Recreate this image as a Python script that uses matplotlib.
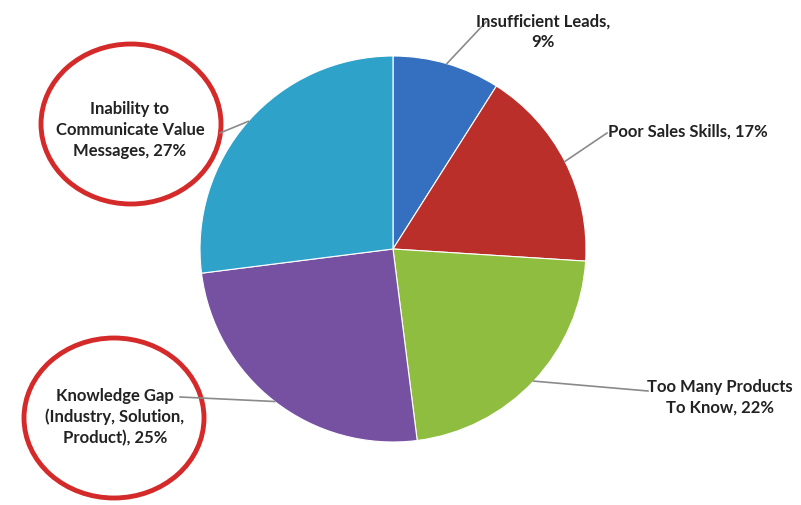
import numpy as np
import matplotlib.pyplot as plt
from matplotlib.patches import Ellipse

labels = [
    "Insufficient Leads,\n9%",
    "Poor Sales Skills, 17%",
    "Too Many Products\nTo Know, 22%",
    "Knowledge Gap\n(Industry, Solution,\nProduct), 25%",
    "Inability to\nCommunicate Value\nMessages, 27%",
]
values = [9, 17, 22, 25, 27]
colors = ["#3470bf", "#bb2f2b", "#8fbd3f", "#7651a1", "#2ea2c9"]

# layout in pixel coords (y measured from the top of the image)
W, H = 801, 505
center = (393, 249)
radius = 193
label_pos = [(543, 32), (688, 132), (720, 397), (115, 417), (130, 130)]
label_ends = [(486, 22), (607, 133), (648, 391), (180, 397), (220, 133)]
ring_centers = [(131, 124), (114, 418)]

fig = plt.figure(figsize=(W / 100, H / 100), dpi=100)
ax = fig.add_axes([0, 0, 1, 1])

wedges, _ = ax.pie(
    values,
    colors=colors,
    startangle=90,
    counterclock=False,
    center=(center[0], H - center[1]),
    radius=radius,
    wedgeprops=dict(edgecolor="white", linewidth=0.8),
    frame=True,
)
ax.set_xlim(0, W)
ax.set_ylim(0, H)
ax.set_aspect("equal")
ax.axis("off")

for w, lab, (lx, ly), (ex, ey) in zip(wedges, labels, label_pos, label_ends):
    mid = np.deg2rad((w.theta1 + w.theta2) / 2)
    sx = center[0] + radius * np.cos(mid)
    sy = H - center[1] + radius * np.sin(mid)
    ax.plot([sx, ex], [sy, H - ey], color="#8a8a8a", lw=1.2)
    ax.text(lx, H - ly, lab, ha="center", va="center", fontsize=12,
            family="Lato", fontweight="bold", color="#222222", linespacing=1.35)

for cx, cy in ring_centers:
    ax.add_patch(Ellipse((cx, H - cy), 180, 160, fill=False,
                         edgecolor="#d42a2a", lw=3.5))

fig.savefig("out.png", dpi=100)
